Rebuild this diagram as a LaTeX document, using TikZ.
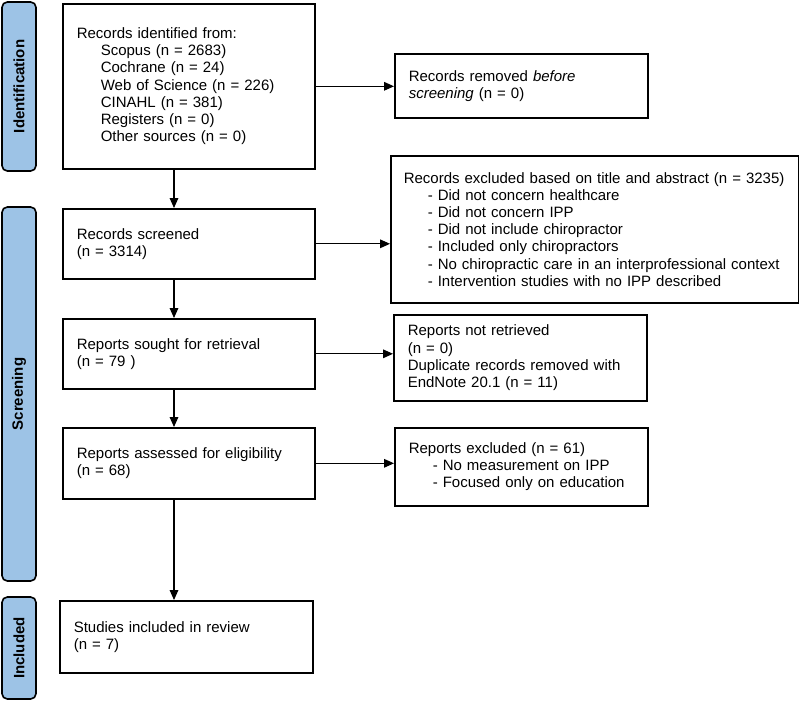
\documentclass[tikz,border=0pt]{standalone}
\usepackage{fontspec}
\setmainfont{Liberation Sans}
\usetikzlibrary{arrows.meta}
\definecolor{phaseblue}{RGB}{157,195,230}
\newcommand{\ind}{\hspace*{18pt}}

\begin{document}
\begin{tikzpicture}[x=0.75pt,y=0.75pt,yscale=-1,xscale=1,
  box/.style={draw, line width=1.2pt, anchor=north west, align=left, inner xsep=10.5pt, inner ysep=0pt, font=\fontsize{11.25}{12.9}\selectfont},
  phase/.style={draw, line width=1.2pt, fill=phaseblue, rounded corners=4pt, rotate=90, inner sep=0pt, minimum height=25.5pt, font=\bfseries\fontsize{11.25}{12}\selectfont},
  flow/.style={line width=0.8pt, -{Triangle[length=7.5pt,width=6.5pt]}}]
\useasboundingbox (0,0) rectangle (799,700);

%Phase bars
\node [phase, minimum width=126.75pt] (idbar) at (19,86.5) {Identification};
\node [phase, minimum width=280.5pt] (scrbar) at (19,394) {Screening};
\node [phase, minimum width=76.5pt] (incbar) at (19,648) {Included};

%Main column
\node [box, text width=168pt, minimum height=123.75pt] (id) at (62,3) {Records identified from:\\
\ind Scopus (n = 2683)\\
\ind Cochrane (n = 24)\\
\ind Web of Science (n = 226)\\
\ind CINAHL (n = 381)\\
\ind Registers (n = 0)\\
\ind Other sources (n = 0)};
\node [box, text width=168pt, minimum height=52.5pt] (scr) at (62,208) {Records screened\\(n = 3314)};
\node [box, text width=168pt, minimum height=52.5pt] (sought) at (62,318) {Reports sought for retrieval\\(n = 79 )};
\node [box, text width=168pt, minimum height=53.25pt] (elig) at (62,427) {Reports assessed for eligibility\\(n = 68)};
\node [box, text width=168.75pt, minimum height=54pt] (incl) at (59,600) {Studies included in review\\(n = 7)};

%Side column
\node [box, text width=168.75pt, minimum height=48pt] (rem) at (394,53) {Records removed \textit{before}\\\textit{screening} (n = 0)};
\node [box, inner xsep=9.75pt, text width=286.5pt, minimum height=110.25pt] (exc) at (390,155) {Records excluded based on title and abstract (n = 3235)\\
\ind - Did not concern healthcare\\
\ind - Did not concern IPP\\
\ind - Did not include chiropractor\\
\ind - Included only chiropractors\\
\ind - No chiropractic care in an interprofessional context\\
\ind - Intervention studies with no IPP described};
\node [box, text width=168.75pt, minimum height=64.5pt] (notret) at (393,314) {Reports not retrieved\\(n = 0)\\Duplicate records removed with\\EndNote 20.1 (n = 11)};
\node [box, text width=168.75pt, minimum height=58.5pt] (repexc) at (394,427) {Reports excluded (n = 61)\\
\ind - No measurement on IPP\\
\ind - Focused only on education};

%Connectors
\coordinate (spine) at (174,0);
\draw [flow] (id.south -| spine) -- (scr.north -| spine);
\draw [flow] (scr.south -| spine) -- (sought.north -| spine);
\draw [flow] (sought.south -| spine) -- (elig.north -| spine);
\draw [flow] (elig.south -| spine) -- (incl.north -| spine);
\draw [flow] (id.east) -- (id.east -| rem.west);
\draw [flow] (scr.east) -- (scr.east -| exc.west);
\draw [flow] (sought.east) -- (sought.east -| notret.west);
\draw [flow] (elig.east) -- (elig.east -| repexc.west);

\end{tikzpicture}
\end{document}
